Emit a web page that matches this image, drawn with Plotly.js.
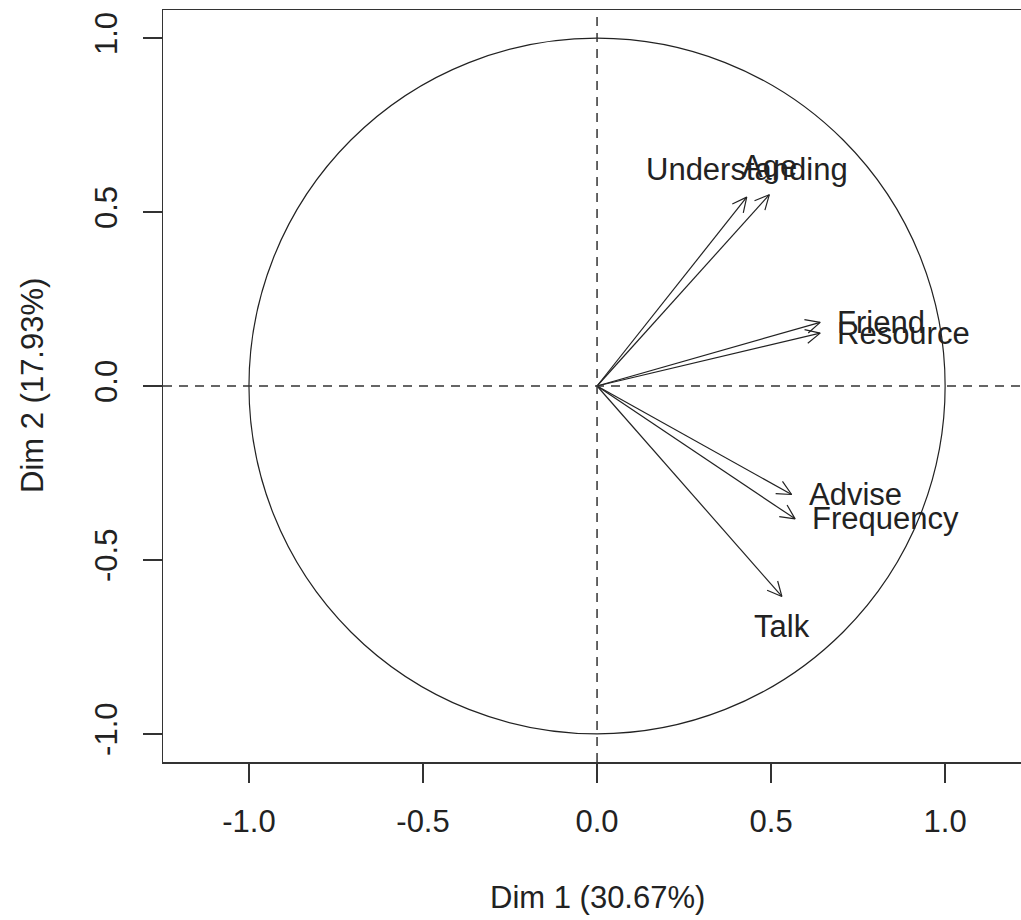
<!DOCTYPE html>
<html>
<head>
<meta charset="utf-8">
<script src="https://cdn.plot.ly/plotly-3.0.1.min.js"></script>
<style>html,body{margin:0;padding:0;background:#fff;overflow:hidden}</style>
</head>
<body>
<div id="chart" style="width:1021px;height:920px"></div>
<script>
// ---- data ----
const variables = ['Understanding', 'Age', 'Friend', 'Resource', 'Advise', 'Frequency', 'Talk'];
const dim1 = [0.430, 0.495, 0.641, 0.641, 0.559, 0.569, 0.531];
const dim2 = [0.543, 0.550, 0.183, 0.152, -0.312, -0.382, -0.605];
const tickValues = [-1, -0.5, 0, 0.5, 1];
const tickLabels = ['-1.0', '-0.5', '0.0', '0.5', '1.0'];
const xTitle = 'Dim 1 (30.67%)';
const yTitle = 'Dim 2 (17.93%)';

// label placement (style, not data)
const labelPos = ['top', 'top', 'right', 'right', 'right', 'right', 'bottom'];

// ---- layout constants ----
const W = 1021, H = 920;
const M = {l: 163, r: 0, t: 10, b: 158};
const xr = [-1.247, 1.218];
const yr = [-1.081, 1.081];
const kx = (W - M.l - M.r) / (xr[1] - xr[0]);
const ky = (H - M.t - M.b) / (yr[1] - yr[0]);
const headLen = 16, headAng = 26 * Math.PI / 180;
const ink = '#222';
const FONT = 'Liberation Sans, Arial, sans-serif';
const FS = 31;

const traces = variables.map((name, i) => {
  const x = dim1[i], y = dim2[i];
  const ang = Math.atan2(y * ky, x * kx);
  const h1x = x - headLen * Math.cos(ang + headAng) / kx;
  const h1y = y - headLen * Math.sin(ang + headAng) / ky;
  const h2x = x - headLen * Math.cos(ang - headAng) / kx;
  const h2y = y - headLen * Math.sin(ang - headAng) / ky;
  return {
    type: 'scatter', mode: 'lines', name: name, showlegend: false, hoverinfo: 'skip',
    x: [0, x, null, h1x, x, h2x],
    y: [0, y, null, h1y, y, h2y],
    line: {color: ink, width: 1.2},
    connectgaps: false
  };
});

const annotations = variables.map((name, i) => {
  const p = labelPos[i];
  const a = {
    x: dim1[i], y: dim2[i], xref: 'x', yref: 'y', text: name, showarrow: false,
    font: {family: FONT, size: FS, color: ink}, yanchor: 'middle'
  };
  if (p === 'top') { a.xanchor = 'center'; a.yshift = 28; }
  else if (p === 'bottom') { a.xanchor = 'center'; a.yshift = -30; }
  else { a.xanchor = 'left'; a.xshift = 15; a.yshift = 0; }
  return a;
});
annotations.push({
  x: 0, xref: 'x', y: 0, yref: 'paper', yanchor: 'middle', xanchor: 'center', yshift: -135,
  text: xTitle, showarrow: false, font: {family: FONT, size: FS, color: ink}
});
annotations.push({
  x: 0, xref: 'paper', y: 0, yref: 'y', xanchor: 'center', yanchor: 'middle', xshift: -131,
  textangle: -90, text: yTitle, showarrow: false, font: {family: FONT, size: FS, color: ink}
});

const axisCommon = {
  showgrid: false, zeroline: false, showline: true, linecolor: '#333', linewidth: 1.5,
  ticks: 'outside', ticklen: 19, tickwidth: 1.5, tickcolor: '#333',
  tickvals: tickValues, ticktext: tickLabels,
  tickfont: {family: FONT, size: FS, color: ink}, fixedrange: true
};

const layout = {
  width: W, height: H,
  margin: M,
  paper_bgcolor: '#fff', plot_bgcolor: '#fff',
  showlegend: false,
  xaxis: Object.assign({}, axisCommon, {range: xr, mirror: true, ticklabelstandoff: 12}),
  yaxis: Object.assign({}, axisCommon, {range: yr, mirror: false, tickangle: -90, ticklabelstandoff: 13}),
  shapes: [
    {type: 'circle', xref: 'x', yref: 'y', x0: -1, x1: 1, y0: -1, y1: 1,
     line: {color: ink, width: 1.2}},
    {type: 'line', xref: 'x', yref: 'paper', x0: 0, x1: 0, y0: 0, y1: 1,
     line: {color: '#333', width: 1.5, dash: '9px,7px'}},
    {type: 'line', xref: 'paper', yref: 'y', x0: 0, x1: 1, y0: 0, y1: 0,
     line: {color: '#333', width: 1.5, dash: '9px,7px'}}
  ],
  annotations: annotations
};

Plotly.newPlot('chart', traces, layout, {displayModeBar: false, staticPlot: true});
</script>
</body>
</html>
